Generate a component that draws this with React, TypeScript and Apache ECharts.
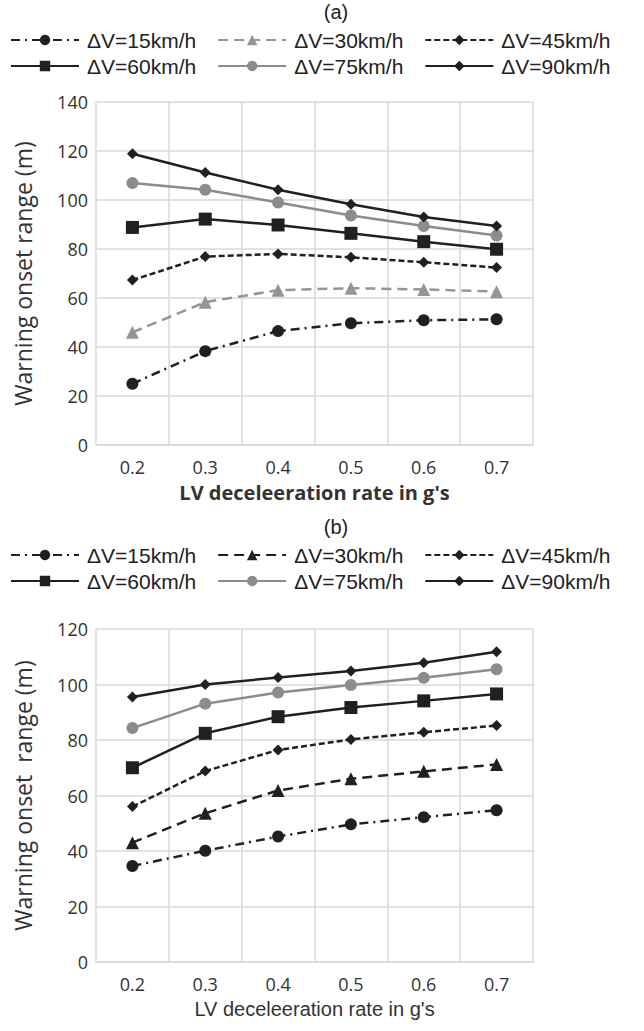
import React, { useEffect, useRef } from "react";
import * as echarts from "echarts";

const categories = ["0.2", "0.3", "0.4", "0.5", "0.6", "0.7"];
const seriesNames = ["ΔV=15km/h", "ΔV=30km/h", "ΔV=45km/h", "ΔV=60km/h", "ΔV=75km/h", "ΔV=90km/h"];

// Panel (a)
const a15 = [25.0, 38.3, 46.5, 49.7, 50.9, 51.3];
const a30 = [46.0, 58.3, 63.2, 64.0, 63.5, 62.6];
const a45 = [67.3, 76.9, 78.0, 76.6, 74.6, 72.4];
const a60 = [88.8, 92.2, 89.8, 86.4, 83.0, 79.9];
const a75 = [106.9, 104.2, 99.0, 93.7, 89.4, 85.5];
const a90 = [118.9, 111.2, 104.2, 98.3, 93.1, 89.4];

// Panel (b)
const b15 = [34.6, 40.1, 45.2, 49.6, 52.2, 54.7];
const b30 = [43.0, 53.6, 61.8, 66.0, 68.7, 71.2];
const b45 = [56.0, 68.8, 76.4, 80.2, 82.8, 85.2];
const b60 = [70.0, 82.4, 88.4, 91.7, 94.1, 96.6];
const b75 = [84.3, 93.1, 97.1, 99.8, 102.4, 105.5];
const b90 = [95.5, 100.0, 102.5, 104.9, 107.8, 111.8];

const yTicksA = { min: 0, max: 140, interval: 20 };
const yTicksB = { min: 0, max: 120, interval: 20 };

const BLACK = "#231f20";
const GRAY = "#959595";
const GRAY2 = "#8c8c8c";

function makeSeries(data: number[][], panel: "a" | "b") {
  const styles = [
    { color: BLACK, type: [9, 5, 2, 5], symbol: "circle", size: 12 },
    { color: panel === "a" ? GRAY : BLACK, type: [10, 6], symbol: "triangle", size: 13 },
    { color: BLACK, type: [6, 3], symbol: "diamond", size: 11 },
    { color: BLACK, type: "solid", symbol: "rect", size: 13 },
    { color: GRAY2, type: "solid", symbol: "circle", size: 12 },
    { color: BLACK, type: "solid", symbol: "diamond", size: 11 },
  ];
  return data.map((d, i) => ({
    name: seriesNames[i],
    type: "line",
    data: d,
    symbol: styles[i].symbol,
    symbolSize: styles[i].size,
    itemStyle: { color: styles[i].color },
    lineStyle: { color: styles[i].color, width: 2.5, type: styles[i].type },
    emphasis: { disabled: true },
  }));
}

function legendRow(names: string[], top: number) {
  return {
    data: names,
    left: 10,
    top,
    itemWidth: 68,
    itemHeight: 13,
    itemGap: 21,
    padding: 0,
    textStyle: {
      fontFamily: "Liberation Sans",
      fontSize: 21,
      color: "#222",
      padding: [0, 0, 0, 3],
      lineHeight: 24,
    },
  };
}

function makeOption(panel: "a" | "b") {
  const isA = panel === "a";
  const ticks = isA ? yTicksA : yTicksB;
  const data = isA ? [a15, a30, a45, a60, a75, a90] : [b15, b30, b45, b60, b75, b90];
  const gridTop = isA ? 102 : 114;
  const gridH = isA ? 343 : 333;
  return {
    animation: false,
    title: {
      text: isA ? "(a)" : "(b)",
      left: 331,
      textAlign: "center",
      top: -3,
      textStyle: { fontFamily: "Liberation Sans", fontSize: 20, fontWeight: "normal", color: "#222" },
    },
    legend: [
      legendRow(seriesNames.slice(0, 3), 28),
      legendRow(seriesNames.slice(3, 6), 54),
    ],
    grid: { left: 96, top: gridTop, width: 437, height: gridH },
    xAxis: {
      type: "category",
      data: categories,
      boundaryGap: true,
      axisLine: { show: true, lineStyle: { color: "#d9d9d9", width: 1.5 } },
      axisTick: { show: false },
      splitLine: { show: true, lineStyle: { color: "#d9d9d9", width: 1.5 } },
      axisLabel: { margin: 13, fontFamily: "Open Sans", fontSize: 18, color: "#333" },
      name: "LV deceleeration rate in g's",
      nameLocation: "middle",
      nameGap: 37,
      nameTextStyle: isA
        ? { fontFamily: "Open Sans", fontSize: 20, fontWeight: "bold", color: "#333" }
        : { fontFamily: "Liberation Sans", fontSize: 20, color: "#333" },
    },
    yAxis: {
      type: "value",
      min: ticks.min,
      max: ticks.max,
      interval: ticks.interval,
      axisLine: { show: false },
      axisTick: { show: false },
      splitLine: { show: true, lineStyle: { color: "#d9d9d9", width: 1.5 } },
      axisLabel: { margin: 8, fontFamily: "Open Sans", fontSize: 18, color: "#333" },
      name: isA ? "Warning onset range (m)" : "Warning onset  range (m)",
      nameLocation: "middle",
      nameGap: 62,
      nameTextStyle: { fontFamily: "Open Sans", fontSize: 23, color: "#333" },
    },
    series: makeSeries(data, panel),
  };
}

function Chart({ panel, height }: { panel: "a" | "b"; height: number }) {
  const ref = useRef<HTMLDivElement>(null);
  useEffect(() => {
    if (!ref.current) return;
    const chart = echarts.init(ref.current, null, { renderer: "svg" });
    chart.setOption(makeOption(panel) as any);
    return () => chart.dispose();
  }, [panel]);
  return <div ref={ref} style={{ width: 644, height }} />;
}

export default function App() {
  return (
    <div style={{ position: "absolute", left: 0, top: 0, width: 644, height: 1031, background: "#fff" }}>
      <Chart panel="a" height={515} />
      <Chart panel="b" height={516} />
    </div>
  );
}
